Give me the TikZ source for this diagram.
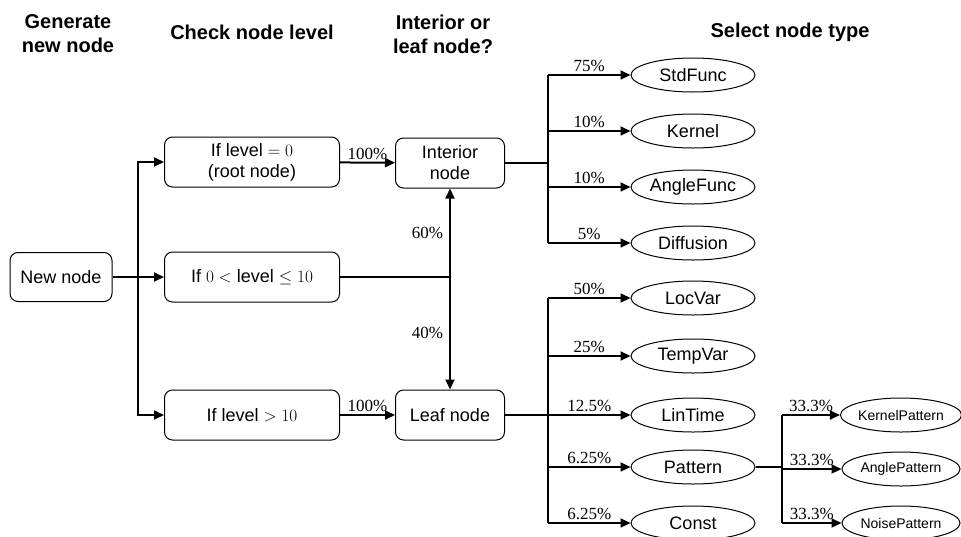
\documentclass[tikz,border=0pt]{standalone}
\usepackage{fontspec}
\setsansfont{Liberation Sans}
\newfontfamily\pctfont{Liberation Serif}
\usetikzlibrary{arrows.meta,shapes.geometric}

\begin{document}
\begin{tikzpicture}[x=1pt,y=-1pt,
  every node/.style={font=\sffamily\fontsize{18}{21}\selectfont},
  header/.style={font=\sffamily\bfseries\fontsize{20}{24}\selectfont, align=center},
  box/.style={draw, line width=1pt, rounded corners=8pt, minimum width=175pt,
    minimum height=50pt, align=center, inner sep=2pt},
  start/.style={box, minimum width=102pt, minimum height=49pt},
  kind/.style={box, minimum width=109pt},
  leafop/.style={draw, ellipse, line width=1pt, minimum width=124pt,
    minimum height=34pt, inner sep=0pt},
  subop/.style={leafop, minimum width=118pt, font=\sffamily\fontsize{14}{16}\selectfont},
  conn/.style={line width=2pt, -{Triangle[length=10pt,width=9pt]}},
  stem/.style={line width=2.5pt},
  pct/.style={font=\pctfont\fontsize{17}{19}\selectfont, inner sep=2pt}]
  \useasboundingbox (0,0) rectangle (961,536);

  % column headers
  \node[header] (hgen) at (68,34) {Generate\\new node};
  \node[header] (hchk) at (252,32) {Check node level};
  \node[header] (hkind) at (443,34) {Interior or\\leaf node?};
  \node[header] (hsel) at (790,32) {Select node type};

  % level check
  \node[start] (new) at (61,277) {New node};
  \node[box] (lv0) at (252,162) {If level $=0$\\(root node)};
  \node[box] (lvmid) at (252,277) {If $0<$ level $\leq 10$};
  \node[box] (lvhi) at (252,415) {If level $>10$};
  \node[kind] (inner) at (450,163) {Interior\\node};
  \node[kind] (leaf) at (450,415) {Leaf node};

  % node types
  \node[leafop] (std) at (693,75) {StdFunc};
  \node[leafop] (kern) at (693,131) {Kernel};
  \node[leafop] (angf) at (693,187) {AngleFunc};
  \node[leafop] (diff) at (693,243) {Diffusion};
  \node[leafop] (locv) at (693,298) {LocVar};
  \node[leafop] (tmpv) at (693,356) {TempVar};
  \node[leafop] (lint) at (693,415) {LinTime};
  \node[leafop] (patt) at (693,467) {Pattern};
  \node[leafop] (cnst) at (693,523) {Const};
  \node[subop] (kpat) at (901,415) {KernelPattern};
  \node[subop] (apat) at (901,469) {AnglePattern};
  \node[subop] (npat) at (901,523) {NoisePattern};

  \coordinate (fork) at (138,277);
  \draw[conn] (new) -- (lvmid);
  \draw[conn] (fork) |- (lv0);
  \draw[conn] (fork) |- (lvhi);

  \draw[conn] (lv0) -- node[pct,above]{100\%} (inner);
  \draw[conn] (lvhi) -- node[pct,above]{100\%} (leaf);
  \coordinate (meet) at (lvmid.east -| inner.south);
  \draw[line width=2pt] (lvmid) -- (meet);
  \draw[conn] (meet) -- node[pct,left,xshift=-4pt]{60\%} (inner);
  \draw[conn] (meet) -- node[pct,left,xshift=-4pt]{40\%} (leaf);

  % interior branch
  \coordinate (itrunk) at (548,163);
  \draw[stem] (inner) -- (itrunk);
  \draw[stem] (itrunk |- std) -- (itrunk |- diff);
  \foreach \n/\p in {std/75, kern/10, angf/10, diff/5}
    \draw[conn] (itrunk |- \n) -- node[pct,above]{\p\%} (\n);

  % leaf branch
  \coordinate (ltrunk) at (548,415);
  \draw[stem] (leaf) -- (ltrunk);
  \draw[stem] (ltrunk |- locv) -- (ltrunk |- cnst);
  \foreach \n/\p in {locv/50, tmpv/25, lint/12.5, patt/6.25, cnst/6.25}
    \draw[conn] (ltrunk |- \n) -- node[pct,above]{\p\%} (\n);

  % pattern branch
  \coordinate (ptrunk) at (782,467);
  \draw[stem] (patt) -- (ptrunk);
  \draw[stem] (ptrunk |- kpat) -- (ptrunk |- npat);
  \foreach \n in {kpat, apat, npat}
    \draw[conn] (ptrunk |- \n) -- node[pct,above]{33.3\%} (\n);
\end{tikzpicture}
\end{document}
